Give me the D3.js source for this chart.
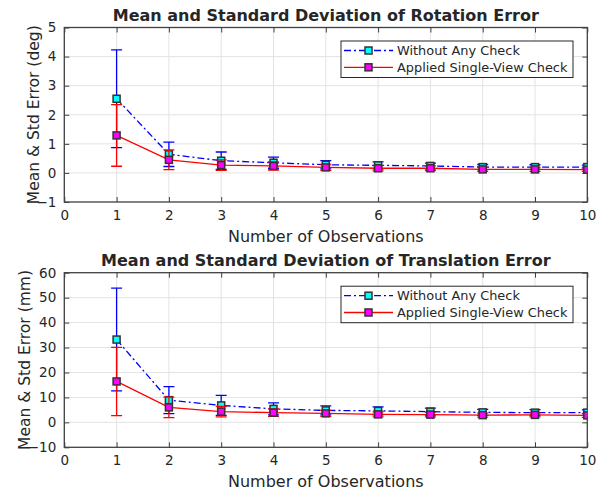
<!DOCTYPE html>
<html><head><meta charset="utf-8">
<script src="https://cdn.jsdelivr.net/npm/d3@7/dist/d3.min.js"></script>
<style>body{margin:0;background:#fff}svg{display:block}text{font-family:"DejaVu Sans",sans-serif;fill:#262626}</style>
</head><body><svg id="c" width="602" height="493"></svg>
<script>
const observations = [1,2,3,4,5,6,7,8,9,10];
const xTicks = [0,1,2,3,4,5,6,7,8,9,10];
const seriesNames = ["Without Any Check", "Applied Single-View Check"];

const rotTicks = [-1,0,1,2,3,4,5];
const rotMeanNoCheck = [2.55,0.64,0.42,0.35,0.28,0.26,0.24,0.20,0.20,0.20];
const rotStdNoCheck  = [1.68,0.42,0.30,0.19,0.14,0.12,0.10,0.09,0.08,0.07];
const rotMeanCheck   = [1.29,0.45,0.27,0.24,0.19,0.16,0.16,0.12,0.12,0.11];
const rotStdCheck    = [1.06,0.34,0.18,0.14,0.10,0.09,0.08,0.07,0.07,0.06];

const transTicks = [-10,0,10,20,30,40,50,60];
const transMeanNoCheck = [33.2,8.9,6.8,5.4,4.8,4.6,4.3,4.0,3.9,3.9];
const transStdNoCheck  = [20.6,5.4,4.0,2.4,1.8,1.6,1.4,1.2,1.2,1.1];
const transMeanCheck   = [16.4,6.0,4.3,3.9,3.6,3.2,3.1,2.9,3.0,2.8];
const transStdCheck    = [13.7,4.1,2.1,1.5,1.2,1.0,0.9,0.8,0.8,0.8];

const svg = d3.select("#c");
const L = 64.3, R = 587.3;

function panel(o){
  const g = svg.append("g");
  const x = d3.scaleLinear().domain([0,10]).range([L,R]);
  const y = d3.scaleLinear().domain(d3.extent(o.yTicks)).range([o.bottom,o.top]);
  g.append("g").selectAll("line").data(xTicks.slice(1,-1)).join("line")
    .attr("x1",d=>x(d)).attr("x2",d=>x(d)).attr("y1",o.top).attr("y2",o.bottom)
    .attr("stroke","#e3e3e3").attr("stroke-width",1);
  g.append("g").selectAll("line").data(o.yTicks.slice(1,-1)).join("line")
    .attr("y1",d=>y(d)).attr("y2",d=>y(d)).attr("x1",L).attr("x2",R)
    .attr("stroke","#e3e3e3").attr("stroke-width",1);
  const ax = d3.axisBottom(x).tickValues(xTicks).tickSize(-5).tickPadding(8).tickFormat(d3.format("d"));
  const axT = d3.axisTop(x).tickValues(xTicks).tickSize(-5).tickFormat("");
  const ay = d3.axisLeft(y).tickValues(o.yTicks).tickSize(-5).tickPadding(8).tickFormat(d3.format("d"));
  const ayR = d3.axisRight(y).tickValues(o.yTicks).tickSize(-5).tickFormat("");
  const style = s => { s.select(".domain").remove(); s.selectAll("line").attr("stroke","#404040");
    s.selectAll("text").attr("font-size","13.5px").attr("fill","#262626").attr("font-family","DejaVu Sans"); };
  g.append("g").attr("transform",`translate(0,${o.bottom})`).call(ax).call(style);
  g.append("g").attr("transform",`translate(0,${o.top})`).call(axT).call(style);
  g.append("g").attr("transform",`translate(${L},0)`).call(ay).call(style);
  g.append("g").attr("transform",`translate(${R},0)`).call(ayR).call(style);
  g.append("rect").attr("x",L).attr("y",o.top).attr("width",R-L).attr("height",o.bottom-o.top)
    .attr("fill","none").attr("stroke","#404040").attr("stroke-width",1.3);

  const clip = "clip"+o.id;
  g.append("clipPath").attr("id",clip).append("rect").attr("x",L).attr("y",o.top).attr("width",R-L).attr("height",o.bottom-o.top);
  const series = [
    {mean:o.m1, std:o.s1, color:"#0000ff", dash:"7,3,2,3", fill:"#00ffff"},
    {mean:o.m2, std:o.s2, color:"#ff0000", dash:null, fill:"#ff00ff"}
  ];
  const line = d3.line().x((d,i)=>x(observations[i])).y(d=>y(d));
  series.forEach(s=>{
    const sg = g.append("g").attr("clip-path",`url(#${clip})`);
    sg.append("path").attr("d",line(s.mean)).attr("fill","none").attr("stroke",s.color)
      .attr("stroke-width",1.3).attr("stroke-dasharray",s.dash);
    const eb = sg.selectAll("g.eb").data(s.mean).join("g");
    eb.append("line").attr("x1",(d,i)=>x(observations[i])).attr("x2",(d,i)=>x(observations[i]))
      .attr("y1",(d,i)=>y(d-s.std[i])).attr("y2",(d,i)=>y(d+s.std[i])).attr("stroke",s.color).attr("stroke-width",1.3);
    [-1,1].forEach(k=>{
      eb.append("line").attr("x1",(d,i)=>x(observations[i])-5.5).attr("x2",(d,i)=>x(observations[i])+5.5)
        .attr("y1",(d,i)=>y(d+k*s.std[i])).attr("y2",(d,i)=>y(d+k*s.std[i])).attr("stroke",s.color).attr("stroke-width",1.3);
    });
    sg.selectAll("rect.mk").data(s.mean).join("rect")
      .attr("x",(d,i)=>x(observations[i])-3.5).attr("y",d=>y(d)-3.5).attr("width",7).attr("height",7)
      .attr("fill",s.fill).attr("stroke","#333").attr("stroke-width",1.5);
  });
  const lx = 341, ly = o.top+13.5, lw = 232, lh = 36.5;
  const lg = g.append("g");
  lg.append("rect").attr("x",lx).attr("y",ly).attr("width",lw).attr("height",lh)
    .attr("fill","#fff").attr("stroke","#262626").attr("stroke-width",1);
  series.forEach((s,i)=>{
    const cy = ly + 9.5 + i*16.8;
    lg.append("line").attr("x1",lx+3).attr("x2",lx+52).attr("y1",cy).attr("y2",cy)
      .attr("stroke",s.color).attr("stroke-width",1.3).attr("stroke-dasharray",s.dash);
    lg.append("rect").attr("x",lx+27.5-3.5).attr("y",cy-3.5).attr("width",7).attr("height",7)
      .attr("fill",s.fill).attr("stroke","#333").attr("stroke-width",1.5);
    lg.append("text").attr("x",lx+56).attr("y",cy).attr("dy","0.35em").attr("font-size","12.9px").text(seriesNames[i]);
  });
  g.append("text").attr("x",(L+R)/2).attr("y",o.top-7).attr("text-anchor","middle")
    .attr("font-size","16px").attr("font-weight","bold").attr("fill","#000").text(o.title);
  g.append("text").attr("x",(L+R)/2).attr("y",o.bottom+39.5).attr("text-anchor","middle")
    .attr("font-size","16px").text("Number of Observations");
  g.append("text").attr("transform",`translate(${o.ylx},${(o.top+o.bottom)/2}) rotate(-90)`).attr("text-anchor","middle")
    .attr("dy","0.35em").attr("font-size","15.5px").text(o.ylabel);
}

panel({id:1, top:27.5, bottom:202, ylx:34, yTicks:rotTicks, m1:rotMeanNoCheck, s1:rotStdNoCheck, m2:rotMeanCheck, s2:rotStdCheck,
  title:"Mean and Standard Deviation of Rotation Error", ylabel:"Mean & Std Error (deg)"});
panel({id:2, top:272.7, bottom:447.3, ylx:25, yTicks:transTicks, m1:transMeanNoCheck, s1:transStdNoCheck, m2:transMeanCheck, s2:transStdCheck,
  title:"Mean and Standard Deviation of Translation Error", ylabel:"Mean & Std Error (mm)"});
</script></body></html>
